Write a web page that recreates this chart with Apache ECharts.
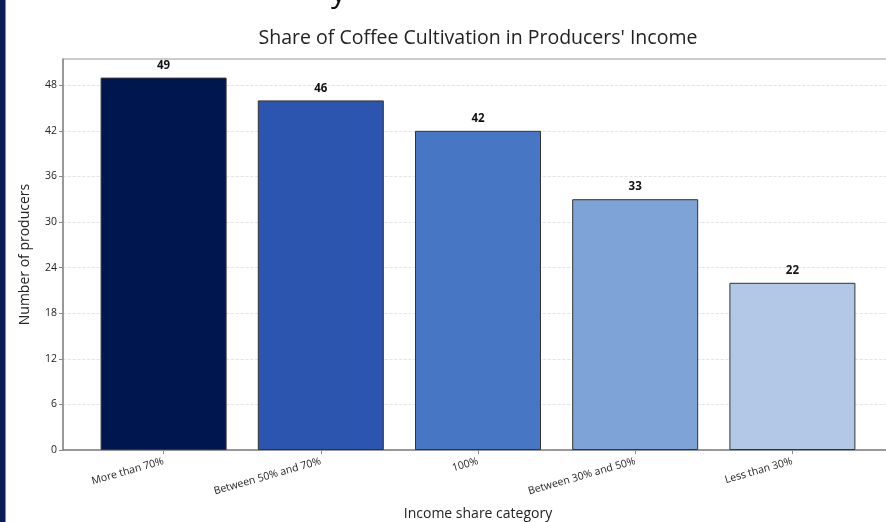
<!DOCTYPE html>
<html>
<head>
<meta charset="utf-8">
<script src="https://cdn.jsdelivr.net/npm/echarts@6/dist/echarts.min.js"></script>
<style>html,body{margin:0;padding:0;background:#fff;}#c{width:886px;height:522px;}</style>
</head>
<body>
<div id="c"></div>
<script>
const categories = ['More than 70%', 'Between 50% and 70%', '100%', 'Between 30% and 50%', 'Less than 30%'];
const values = [49, 46, 42, 33, 22];
const barColors = ['#00164f', '#2c55b0', '#4777c4', '#7ea3d6', '#b3c7e6'];
const yTicks = [0, 6, 12, 18, 24, 30, 36, 42, 48];

const chart = echarts.init(document.getElementById('c'));
const FONT = '"Open Sans", "Noto Sans", sans-serif';
chart.setOption({
  animation: false,
  textStyle: { fontFamily: FONT },
  title: {
    text: "Share of Coffee Cultivation in Producers' Income",
    left: 473, top: 23, textAlign: 'center',
    textStyle: { fontSize: 19.5, fontWeight: 'normal', color: '#222', fontFamily: FONT }
  },
  graphic: [
    { type: 'rect', shape: { x: 0, y: 0, width: 5, height: 522 }, style: { fill: '#0b1c57' } },
    { type: 'rect', shape: { x: 5, y: 0, width: 1, height: 522 }, style: { fill: '#6f8fd0' } },
    { type: 'text', left: 331, top: -22, style: { text: 'y', fontSize: 30, fontFamily: FONT, fill: '#111' } }
  ],
  grid: { left: 63, width: 830, top: 59, bottom: 72, outerBoundsMode: 'none', containLabel: false,
          show: true, borderColor: '#999', borderWidth: 1 },
  xAxis: {
    type: 'value', min: -0.64, max: 4.64,
    name: 'Income share category', nameLocation: 'middle', nameGap: 57,
    nameTextStyle: { fontSize: 14, color: '#222' },
    axisLine: { show: true, onZero: false, lineStyle: { color: '#888', width: 1.5 } },
    axisTick: { show: true, customValues: [0, 1, 2, 3, 4], length: 4, lineStyle: { color: '#888' } },
    axisLabel: {
      customValues: [0, 1, 2, 3, 4], rotate: 16, fontSize: 10.5, color: '#222', margin: 11,
      formatter: v => categories[Math.round(v)]
    },
    splitLine: { show: false }
  },
  yAxis: {
    type: 'value', min: 0, max: 51.45,
    name: 'Number of producers', nameLocation: 'middle', nameGap: 31,
    nameTextStyle: { fontSize: 14, color: '#222' },
    axisLine: { show: true, onZero: false, lineStyle: { color: '#888', width: 1.5 } },
    axisTick: { show: true, customValues: yTicks, length: 4, lineStyle: { color: '#888' } },
    axisLabel: { customValues: yTicks, fontSize: 10.5, color: '#222', margin: 6 },
    splitLine: { show: false }
  },
  series: [{
    type: 'bar',
    barWidth: 126,
    data: values.map((v, i) => ({ value: [i, v], itemStyle: { color: barColors[i] } })),
    itemStyle: { borderColor: '#333', borderWidth: 1 },
    label: {
      show: true, position: 'top', distance: 6, fontSize: 11.5, fontWeight: 'bold', color: '#111',
      formatter: p => p.value[1]
    },
    markLine: {
      silent: true, symbol: 'none', label: { show: false },
      lineStyle: { color: '#ddd', type: 'dashed', width: 0.8 },
      z: 0,
      data: yTicks.slice(1).map(t => ({ yAxis: t }))
    }
  }]
});
</script>
</body>
</html>
